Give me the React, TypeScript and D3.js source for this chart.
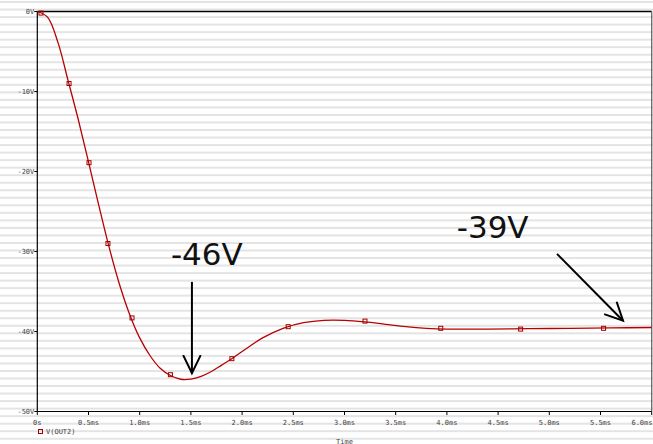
import React from "react";
import * as d3 from "d3";

const W = 653;
const H = 444;

// waveform V(OUT2) (time in ms, volts)
const times = [0, 0.1, 0.2, 0.3, 0.4, 0.5, 0.6, 0.7, 0.8, 0.9, 1.0, 1.1, 1.2, 1.3, 1.4, 1.5, 1.6, 1.7, 1.8, 1.9, 2.0, 2.2, 2.4, 2.6, 2.8, 3.0, 3.2, 3.4, 3.6, 3.8, 4.0, 4.4, 4.8, 5.2, 5.6, 6.0];
const volts = [0, -0.7, -3.8, -8.6, -13.5, -18.8, -24.2, -29.4, -34.0, -37.8, -40.8, -43.0, -44.6, -45.5, -45.97, -45.95, -45.6, -45.0, -44.2, -43.4, -42.5, -40.8, -39.6, -38.9, -38.6, -38.6, -38.8, -39.1, -39.4, -39.6, -39.7, -39.7, -39.65, -39.6, -39.55, -39.5];

const markerTimes = [0.036, 0.31, 0.505, 0.69, 0.925, 1.3, 1.9, 2.45, 3.2, 3.94, 4.72, 5.53];
const markerVolts = [-0.2, -9.0, -18.9, -29.0, -38.3, -45.4, -43.4, -39.4, -38.7, -39.6, -39.7, -39.6];

const xTicks = [0, 0.5, 1.0, 1.5, 2.0, 2.5, 3.0, 3.5, 4.0, 4.5, 5.0, 5.5, 6.0];
const xTickLabels = ["0s", "0.5ms", "1.0ms", "1.5ms", "2.0ms", "2.5ms", "3.0ms", "3.5ms", "4.0ms", "4.5ms", "5.0ms", "5.5ms", "6.0ms"];
const yTicks = [0, -10, -20, -30, -40, -50];
const yTickLabels = ["0V", "-10V", "-20V", "-30V", "-40V", "-50V"];

const seriesName = "V(OUT2)";
const xTitle = "Time";
const annotations = [
  { label: "-46V", tx: 1.305, tv: -31.7, from: [1.51, -33.8], to: [1.51, -45.2] },
  { label: "-39V", tx: 4.096, tv: -28.35, from: [5.075, -30.3], to: [5.72, -38.65] },
];

const X0 = 37.3, X1 = 651.7, Y0 = 411.5, Y1 = 11.5;

export default function App() {
  const x = d3.scaleLinear().domain([0, 6]).range([X0, X1]);
  const y = d3.scaleLinear().domain([-50, 0]).range([Y0, Y1]);
  const pts = times.map((t, i) => [t, volts[i]] as [number, number]);
  const line = d3
    .line<[number, number]>()
    .x((d) => x(d[0]))
    .y((d) => y(d[1]))
    .curve(d3.curveCatmullRom.alpha(0.5));
  const stripes = d3.range(0, 60).map((i) => 1 + i * 7.53);
  const red = "#b80000";
  const tickFont = "'DejaVu Sans Mono', monospace";

  const arrowHead = (from: number[], to: number[]) => {
    const x1 = x(from[0]), y1 = y(from[1]), x2 = x(to[0]), y2 = y(to[1]);
    const ang = Math.atan2(y2 - y1, x2 - x1);
    const L = 20, a = (26 * Math.PI) / 180;
    const p1 = [x2 - L * Math.cos(ang - a), y2 - L * Math.sin(ang - a)];
    const p2 = [x2 - L * Math.cos(ang + a), y2 - L * Math.sin(ang + a)];
    return `M${p1[0]},${p1[1]}L${x2},${y2}L${p2[0]},${p2[1]}`;
  };

  return (
    <svg
      width={W}
      height={H}
      style={{ position: "fixed", left: 0, top: 0, background: "#ffffff" }}
    >
      <rect x={0} y={0} width={W} height={H} fill="#ffffff" />
      {stripes.map((s, i) => (
        <rect key={i} x={0} y={s} width={W} height={2} fill="#e4e4e4" />
      ))}
      {/* frame */}
      <line x1={X0} y1={Y1} x2={X1} y2={Y1} stroke="#000" strokeWidth={1.3} />
      <line x1={X1} y1={Y1} x2={X1} y2={Y0} stroke="#666" strokeWidth={1.3} />
      <line x1={X0} y1={Y1} x2={X0} y2={Y0} stroke="#000" strokeWidth={1.2} />
      <line x1={X0} y1={Y0} x2={X1} y2={Y0} stroke="#000" strokeWidth={1.2} />
      {/* y ticks */}
      {yTicks.map((v, i) => (
        <g key={"y" + i}>
          <line x1={X0 - 3} x2={X0} y1={y(v)} y2={y(v)} stroke="#000" strokeWidth={1} />
          <text x={X0 - 3} y={y(v) + 2.5} textAnchor="end" fontSize={7} fontFamily={tickFont} fill="#444">
            {yTickLabels[i]}
          </text>
        </g>
      ))}
      {/* x ticks */}
      {xTicks.map((t, i) => (
        <g key={"x" + i}>
          <line x1={x(t)} x2={x(t)} y1={Y0} y2={Y0 + 3.5} stroke="#000" strokeWidth={1} />
          <text
            x={i === xTicks.length - 1 ? W - 0.5 : x(t)}
            y={425}
            textAnchor={i === xTicks.length - 1 ? "end" : "middle"}
            fontSize={7}
            fontFamily={tickFont}
            fill="#444"
          >
            {xTickLabels[i]}
          </text>
        </g>
      ))}
      {/* curve */}
      <path d={line(pts) || ""} fill="none" stroke={red} strokeWidth={1.3} />
      {markerTimes.map((t, i) => (
        <rect key={"m" + i} x={x(t) - 2} y={y(markerVolts[i]) - 2} width={4} height={4} fill="none" stroke="#a00000" strokeWidth={1} />
      ))}
      {/* legend */}
      <rect x={38.5} y={429.5} width={4} height={4} fill="none" stroke="#a00000" strokeWidth={1} />
      <text x={46} y={434} fontSize={7} fontFamily={tickFont} fill="#444">
        {seriesName}
      </text>
      <text x={(X0 + X1) / 2} y={443.5} textAnchor="middle" fontSize={7} fontFamily={tickFont} fill="#444">
        {xTitle}
      </text>
      {/* annotations */}
      {annotations.map((a, i) => (
        <g key={"a" + i}>
          <text x={x(a.tx)} y={y(a.tv)} fontSize={31} fontFamily="'DejaVu Sans', sans-serif" fill="#111">
            {a.label}
          </text>
          <line x1={x(a.from[0])} y1={y(a.from[1])} x2={x(a.to[0])} y2={y(a.to[1])} stroke="#000" strokeWidth={2} />
          <path d={arrowHead(a.from, a.to)} fill="none" stroke="#000" strokeWidth={2} />
        </g>
      ))}
    </svg>
  );
}
